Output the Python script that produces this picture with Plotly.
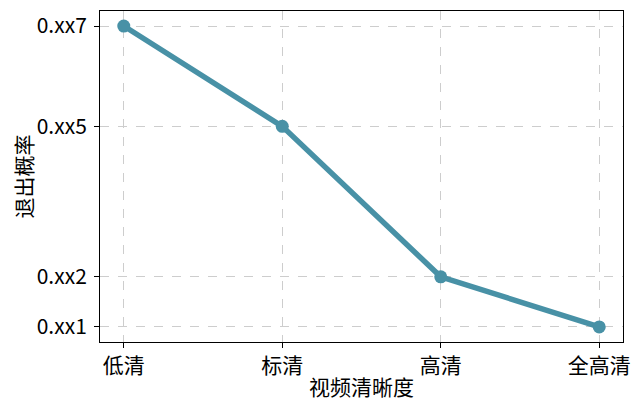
import plotly.graph_objs as go

# 视频清晰度 vs 退出概率
categories = ['低清', '标清', '高清', '全高清']
exit_prob = [7, 5, 2, 1]
tick_vals = [1, 2, 5, 7]
tick_text = ['0.xx1', '0.xx2', '0.xx5', '0.xx7']

line_color = 'rgb(72, 145, 166)'
font_family = 'Noto Sans CJK SC'

trace = go.Scatter(
    x=list(range(len(categories))),
    y=exit_prob,
    mode='lines+markers',
    line=dict(color=line_color, width=5.5),
    marker=dict(color=line_color, size=13),
    showlegend=False,
)

# page body has an 8px margin, so margins are shifted by that
layout = go.Layout(
    width=640,
    height=412,
    margin=dict(l=92, r=25, t=1, b=78),
    paper_bgcolor='white',
    plot_bgcolor='white',
    font=dict(family=font_family, size=21, color='black'),
    xaxis=dict(
        title=dict(text='视频清晰度', font=dict(size=21), standoff=2),
        tickvals=list(range(len(categories))),
        ticktext=categories,
        range=[-0.15, 3.15],
        showline=True, mirror=True, linecolor='black', linewidth=1,
        ticks='outside', ticklen=5, tickcolor='black',
        showgrid=True, gridcolor='rgb(205,205,205)', griddash='dash', gridwidth=1,
        zeroline=False,
    ),
    yaxis=dict(
        title=dict(text='退出概率', font=dict(size=21), standoff=4),
        tickvals=tick_vals,
        ticktext=tick_text,
        ticklabelstandoff=3,
        ticklabeloverflow='allow',
        range=[0.7, 7.3],
        showline=True, mirror=True, linecolor='black', linewidth=1,
        ticks='outside', ticklen=5, tickcolor='black',
        showgrid=True, gridcolor='rgb(205,205,205)', griddash='dash', gridwidth=1,
        zeroline=False,
    ),
)

fig = go.Figure(data=[trace], layout=layout)
fig.write_html("out.html")
